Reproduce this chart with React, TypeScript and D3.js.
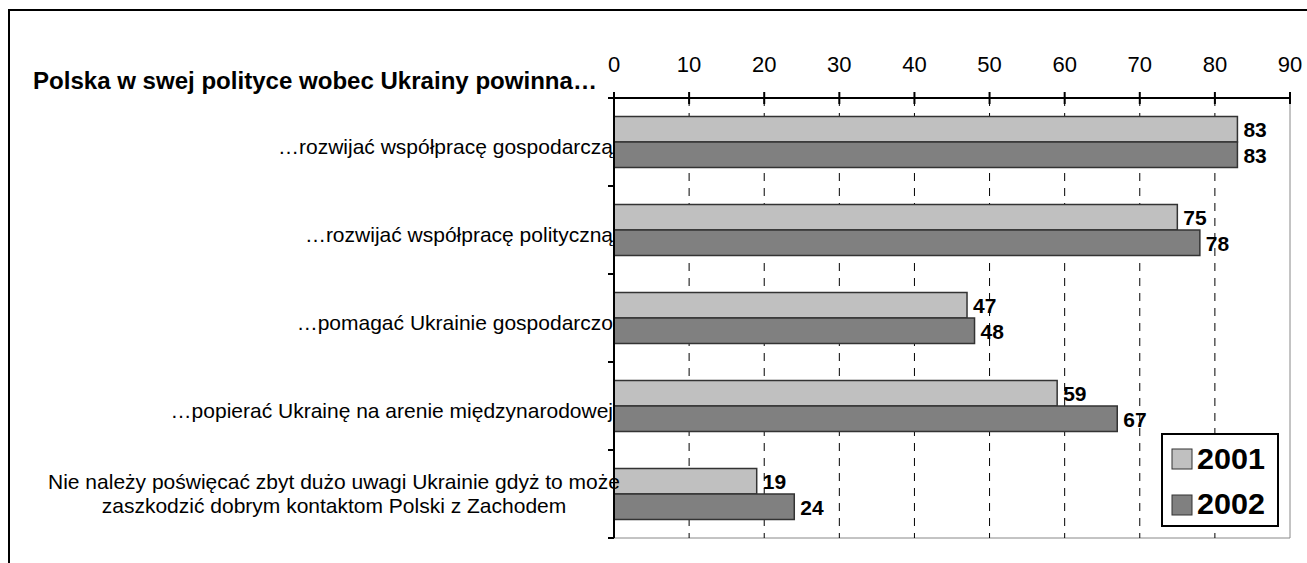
import * as d3 from 'd3';

const categories = [
  ['…rozwijać współpracę gospodarczą'],
  ['…rozwijać współpracę polityczną'],
  ['…pomagać Ukrainie gospodarczo'],
  ['…popierać Ukrainę na arenie międzynarodowej'],
  ['Nie należy poświęcać zbyt dużo uwagi Ukrainie gdyż to może', 'zaszkodzić dobrym kontaktom Polski z Zachodem'],
];
const series = ['2001', '2002'];
const values2001 = [83, 75, 47, 59, 19];
const values2002 = [83, 78, 48, 67, 24];
const xTicks = [0, 10, 20, 30, 40, 50, 60, 70, 80, 90];
const title = 'Polska w swej polityce wobec Ukrainy powinna…';

const colors = ['#c0c0c0', '#808080'];
const W = 1307, H = 563;
const left = 614, right = 1290, top = 98, bottom = 538;

export default function App() {
  const x = d3.scaleLinear().domain([0, 90]).range([left, right]);
  const y = d3.scaleBand<number>().domain(d3.range(categories.length)).range([top, bottom]);
  const inner = d3.scaleBand<string>().domain(series).range([0, 51]);
  const font = 'Arial, "Liberation Sans", sans-serif';
  const all = [values2001, values2002];

  return (
    <svg width={W} height={H} style={{ position: 'absolute', left: 0, top: 0 }} fontFamily={font}>
      <rect x={0} y={0} width={W} height={H} fill="#fff" />
      <path d={`M9,${H + 5}V10H${W + 5}`} fill="none" stroke="#000" strokeWidth={2} />
      {/* plot border right/bottom */}
      <line x1={right} x2={right} y1={top} y2={bottom} stroke="#888" strokeWidth={1} />
      <line x1={left} x2={right} y1={bottom} y2={bottom} stroke="#888" strokeWidth={1} />
      {/* grid */}
      {xTicks.slice(1, -1).map(t => (
        <line key={t} x1={x(t)} x2={x(t)} y1={top} y2={bottom} stroke="#000" strokeWidth={1} strokeDasharray="8,7" />
      ))}
      {/* bars */}
      {categories.map((c, i) => (
        <g key={i}>
          {series.map((s, j) => (
            <rect key={s} x={x(0)} y={y(i)! + y.bandwidth() / 2 - 25.5 + inner(s)!}
              width={x(all[j][i]) - x(0)} height={inner.bandwidth()}
              fill={colors[j]} stroke="#333" strokeWidth={1.5} />
          ))}
          {series.map((s, j) => (
            <text key={s} x={x(all[j][i]) + 6} y={y(i)! + y.bandwidth() / 2 - 25.5 + inner(s)! + inner.bandwidth() / 2 + 8}
              fontSize={21} fontWeight="bold">{all[j][i]}</text>
          ))}
        </g>
      ))}
      {/* top axis */}
      <line x1={left} x2={right} y1={top} y2={top} stroke="#000" strokeWidth={2} />
      {xTicks.map(t => (
        <g key={t}>
          <line x1={x(t)} x2={x(t)} y1={top - 6} y2={top + 6} stroke="#000" strokeWidth={2} />
          <text x={x(t)} y={top - 26} textAnchor="middle" fontSize={22}>{t}</text>
        </g>
      ))}
      {/* left axis */}
      <line x1={left} x2={left} y1={top} y2={bottom} stroke="#000" strokeWidth={2} />
      {d3.range(categories.length + 1).map(i => {
        const yy = i < categories.length ? y(i)! : bottom;
        return <line key={i} x1={left - 6} x2={left} y1={yy} y2={yy} stroke="#000" strokeWidth={2} />;
      })}
      {categories.map((c, i) => {
        const cy = y(i)! + y.bandwidth() / 2;
        if (c.length === 1) {
          return <text key={i} x={left - 1} y={cy + 12} textAnchor="end" fontSize={21}>{c[0]}</text>;
        }
        return (
          <text key={i} textAnchor="middle" fontSize={21}>
            {c.map((line, k) => (
              <tspan key={k} x={334} y={cy - 5 + k * 24}>{line}</tspan>
            ))}
          </text>
        );
      })}
      <text x={33} y={89} fontSize={23} fontWeight="bold" textLength={564} lengthAdjust="spacingAndGlyphs">{title}</text>
      {/* legend */}
      <rect x={1162} y={434} width={116} height={92} fill="#fff" stroke="#000" strokeWidth={2} />
      {series.map((s, j) => (
        <g key={s}>
          <rect x={1172} y={449 + j * 46} width={20} height={20} fill={colors[j]} stroke="#333" strokeWidth={1} />
          <text x={1197} y={469 + j * 45} fontSize={30} fontWeight="bold" textLength={68} lengthAdjust="spacingAndGlyphs">{s}</text>
        </g>
      ))}
    </svg>
  );
}
